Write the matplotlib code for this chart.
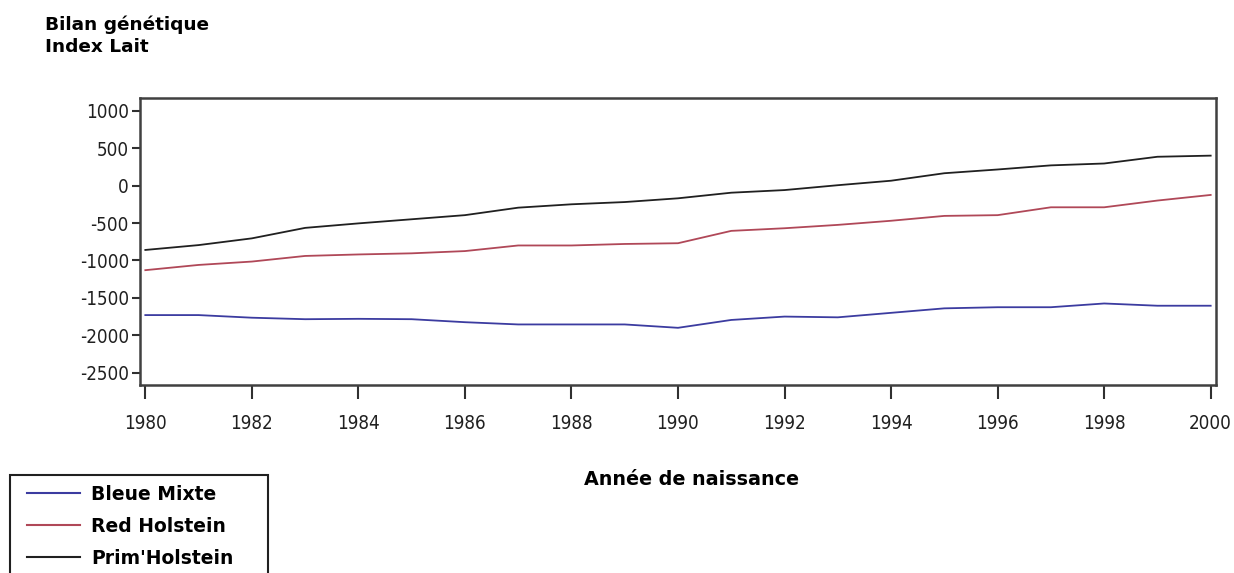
import matplotlib
matplotlib.use("Agg")
import matplotlib.pyplot as plt

""" données lues sur le graphique """
annees = list(range(1980, 2001))
bleue_mixte = [-1730, -1730, -1765, -1785, -1780, -1785, -1825, -1855, -1855, -1855, -1900,
               -1795, -1750, -1760, -1700, -1640, -1625, -1625, -1575, -1605, -1605]
red_holstein = [-1130, -1060, -1015, -940, -920, -905, -875, -800, -800, -780, -770,
                -605, -570, -525, -470, -405, -395, -290, -290, -200, -125]
prim_holstein = [-860, -795, -705, -565, -505, -450, -395, -295, -250, -220, -170,
                 -95, -60, 5, 65, 165, 215, 270, 295, 385, 400]

x_ticks = list(range(1980, 2001, 2))
y_ticks = [1000, 500, 0, -500, -1000, -1500, -2000, -2500]

L, H = 1234, 573  # taille en pixels
fonte = ["DejaVu Sans"]

fig = plt.figure(figsize=(L / 100, H / 100), dpi=100)
ax = fig.add_axes([140 / L, 1 - 385 / H, 1076 / L, 287 / H])

ax.plot(annees, bleue_mixte, color="#3c3ca0", lw=1.3, label="Bleue Mixte")
ax.plot(annees, red_holstein, color="#b04858", lw=1.3, label="Red Holstein")
ax.plot(annees, prim_holstein, color="#202020", lw=1.3, label="Prim'Holstein")

ax.set_xlim(1979.9, 2000.1)
ax.set_ylim(-2664, 1170)
ax.set_xticks(x_ticks)
ax.set_yticks(y_ticks)
ax.set_xticklabels([str(a) for a in x_ticks])
ax.set_yticklabels([str(v) for v in y_ticks])
for lab in ax.get_xticklabels() + ax.get_yticklabels():
    lab.set_family("DejaVu Sans")
    lab.set_fontstretch("condensed")
    lab.set_fontsize(13.5)
    lab.set_color("#202020")
ax.tick_params(axis="x", direction="out", length=10, width=1.5, pad=11, color="#303030")
ax.tick_params(axis="y", direction="out", length=6, width=1.5, pad=2, color="#303030")
for s in ax.spines.values():
    s.set_linewidth(1.8)
    s.set_color("#404040")

fig.text(45 / L, 1 - 30 / H, "Bilan génétique", family=fonte, fontsize=13.3,
         fontweight="bold", va="baseline")
fig.text(45 / L, 1 - 52.5 / H, "Index Lait", family=fonte, fontsize=13.3,
         fontweight="bold", va="baseline")
fig.text(692 / L, 1 - 485 / H, "Année de naissance", family=fonte, fontsize=13.8,
         fontweight="bold", ha="center", va="baseline")

# légende sans cadre + cadre dessiné à part (coupé en bas comme l'original)
leg = fig.legend(loc="upper left", bbox_to_anchor=(27 / L, 1 - 485 / H),
                 prop={"family": fonte, "size": 13.5, "weight": "bold"},
                 handlelength=2.83, handletextpad=0.59, labelspacing=0.68,
                 borderpad=0, borderaxespad=0, frameon=False)
for ligne in leg.get_lines():
    ligne.set_linewidth(1.5)
cadre = plt.Rectangle((10 / L, -0.05), 258 / L, (H - 475) / H + 0.05,
                      transform=fig.transFigure, fill=False, lw=1.5, ec="#202020")
fig.patches.append(cadre)

fig.savefig("out.png", dpi=100)
